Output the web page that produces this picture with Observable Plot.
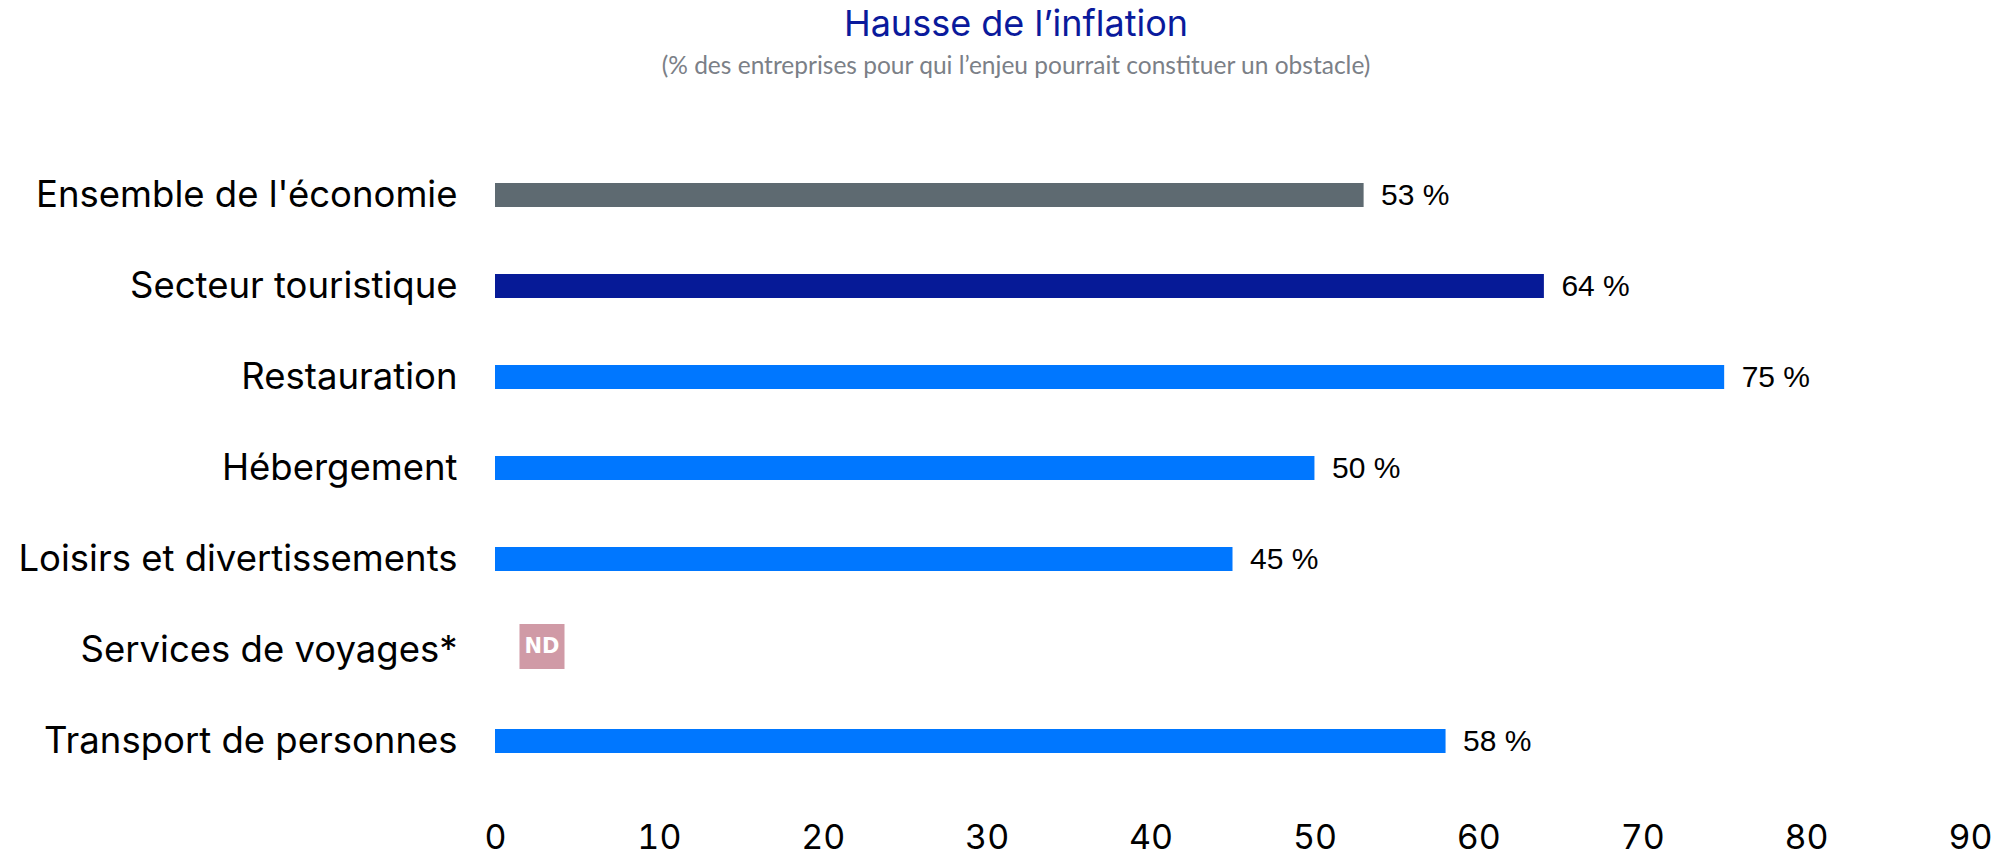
<!DOCTYPE html>
<html>
<head>
<meta charset="utf-8">
<script src="https://cdn.jsdelivr.net/npm/d3@7"></script>
<script src="https://cdn.jsdelivr.net/npm/@observablehq/plot@0.6"></script>
<style>
  html, body { margin: 0; padding: 0; background: #fff; }
  #header { position: relative; width: 2010px; height: 90px; }
  #title { position: absolute; left: 1016px; top: 23px; transform: translate(-50%, -50%);
    font-family: Inter, sans-serif; font-size: 36px; color: #0a1a9c; white-space: nowrap; }
  #subtitle { position: absolute; left: 1016px; top: 64px; transform: translate(-50%, -50%);
    font-family: Lato, sans-serif; font-size: 24.5px; color: #7b8087; white-space: nowrap; }
</style>
</head>
<body>
<div id="header">
  <div id="title">Hausse de l’inflation</div>
  <div id="subtitle">(% des entreprises pour qui l’enjeu pourrait constituer un obstacle)</div>
</div>
<div id="chart"></div>
<script>
const categories = [
  "Ensemble de l'économie",
  "Secteur touristique",
  "Restauration",
  "Hébergement",
  "Loisirs et divertissements",
  "Services de voyages*",
  "Transport de personnes"
];
const values = [53, 64, 75, 50, 45, null, 58];
const barColors = ["#5e6a71", "#061a97", "#0077ff", "#0077ff", "#0077ff", "#0077ff", "#0077ff"];
const xTicks = [0, 10, 20, 30, 40, 50, 60, 70, 80, 90];
const ndLabel = "ND";

const rows = categories.map((c, i) => ({category: c, value: values[i], color: barColors[i]}));
const present = rows.filter(d => d.value != null);
const missing = rows.filter(d => d.value == null);

const chart = Plot.plot({
  width: 2010,
  height: 763,
  marginLeft: 495,
  marginRight: 40,
  marginTop: 0,
  marginBottom: 73,
  style: {background: "#fff", color: "#000", overflow: "visible"},
  x: {domain: [0, 90], axis: null},
  y: {domain: categories, range: [92, 663], paddingInner: 0.737, paddingOuter: 0, align: 0.5, axis: null},
  marks: [
    Plot.axisX({ticks: xTicks, tickSize: 0, tickPadding: 44, fontSize: 34, fontFamily: "Inter, sans-serif", fill: "#000", label: null}),
    Plot.axisY({tickSize: 0, tickPadding: 38, fontSize: 36.5, fontFamily: "Inter, sans-serif", fill: "#000", label: null}),
    Plot.barX(present, {x: "value", y: "category", fill: "color"}),
    Plot.text(present, {x: "value", y: "category", text: d => `${d.value} %`, textAnchor: "start", dx: 17,
      fontSize: 30, fontFamily: "Liberation Sans, Arial, sans-serif", fill: "#000"}),
    Plot.dot(missing, {x: () => 0, y: "category", symbol: "square", r: 25.4, dx: 46.5, dy: -4, fill: "#d09aa6", stroke: "none"}),
    Plot.text(missing, {x: () => 0, y: "category", text: () => ndLabel, dx: 46.5, dy: -4, fill: "#fff",
      fontSize: 21, fontWeight: "bold", fontFamily: "DejaVu Sans, sans-serif"})
  ]
});
document.getElementById("chart").appendChild(chart);
</script>
</body>
</html>
